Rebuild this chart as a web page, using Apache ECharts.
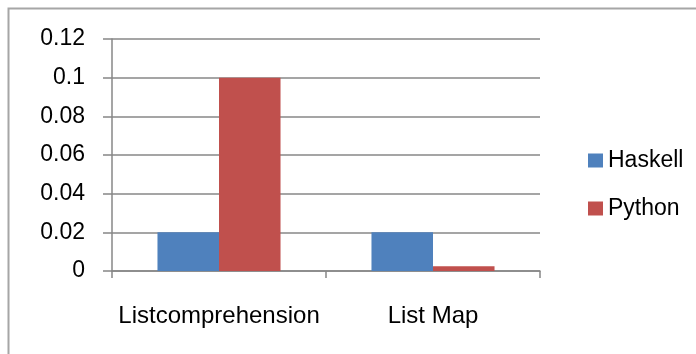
<!DOCTYPE html>
<html>
<head>
<meta charset="utf-8">
<script src="https://cdn.jsdelivr.net/npm/echarts@6/dist/echarts.min.js"></script>
<style>
  html, body { margin: 0; padding: 0; background: #ffffff; }
  #chart { width: 696px; height: 354px; }
</style>
</head>
<body>
<div id="chart"></div>
<script>
// Timing comparison: list comprehension vs. list map
const categories = ['Listcomprehension', 'List Map'];
const haskellValues = [0.02, 0.02];
const pythonValues = [0.1, 0.0025];
const yTicks = { min: 0, max: 0.12, interval: 0.02 };

const font = 'Liberation Sans, Arial, sans-serif';
const gridColor = '#878787';

const chart = echarts.init(document.getElementById('chart'));
chart.setOption({
  animation: false,
  backgroundColor: '#ffffff',
  graphic: [{
    type: 'rect',
    shape: { x: 8.5, y: 8.5, width: 720, height: 380 },
    style: { fill: 'none', stroke: '#a6a6a6', lineWidth: 2 },
    silent: true
  }],
  grid: { left: 112, right: 156, top: 39, bottom: 83, containLabel: false },
  legend: {
    orient: 'vertical',
    left: 583,
    top: 144,
    itemWidth: 15,
    itemHeight: 14,
    itemGap: 25,
    itemStyle: { borderWidth: 0 },
    icon: 'rect',
    textStyle: { fontFamily: font, fontSize: 23, color: '#000' },
    data: ['Haskell', 'Python']
  },
  xAxis: {
    type: 'category',
    data: categories,
    axisLine: { lineStyle: { color: gridColor, width: 1.5 } },
    axisTick: { show: true, length: 7, lineStyle: { color: gridColor, width: 1.5 } },
    axisLabel: { interval: 0, fontFamily: font, fontSize: 24, color: '#000', margin: 33 }
  },
  yAxis: {
    type: 'value',
    min: yTicks.min,
    max: yTicks.max,
    interval: yTicks.interval,
    axisLine: { show: true, lineStyle: { color: gridColor, width: 1.5 } },
    axisTick: { show: true, length: 9, lineStyle: { color: gridColor, width: 1.5 } },
    splitLine: { lineStyle: { color: gridColor, width: 1.5 } },
    axisLabel: { fontFamily: font, fontSize: 23, color: '#000', margin: 27 }
  },
  series: [
    {
      name: 'Haskell',
      type: 'bar',
      data: haskellValues,
      barGap: '0%',
      barCategoryGap: '42.5%',
      itemStyle: { color: '#4F81BD' }
    },
    {
      name: 'Python',
      type: 'bar',
      data: pythonValues,
      barGap: '0%',
      barCategoryGap: '42.5%',
      itemStyle: { color: '#C0504D' }
    }
  ]
});
</script>
</body>
</html>
